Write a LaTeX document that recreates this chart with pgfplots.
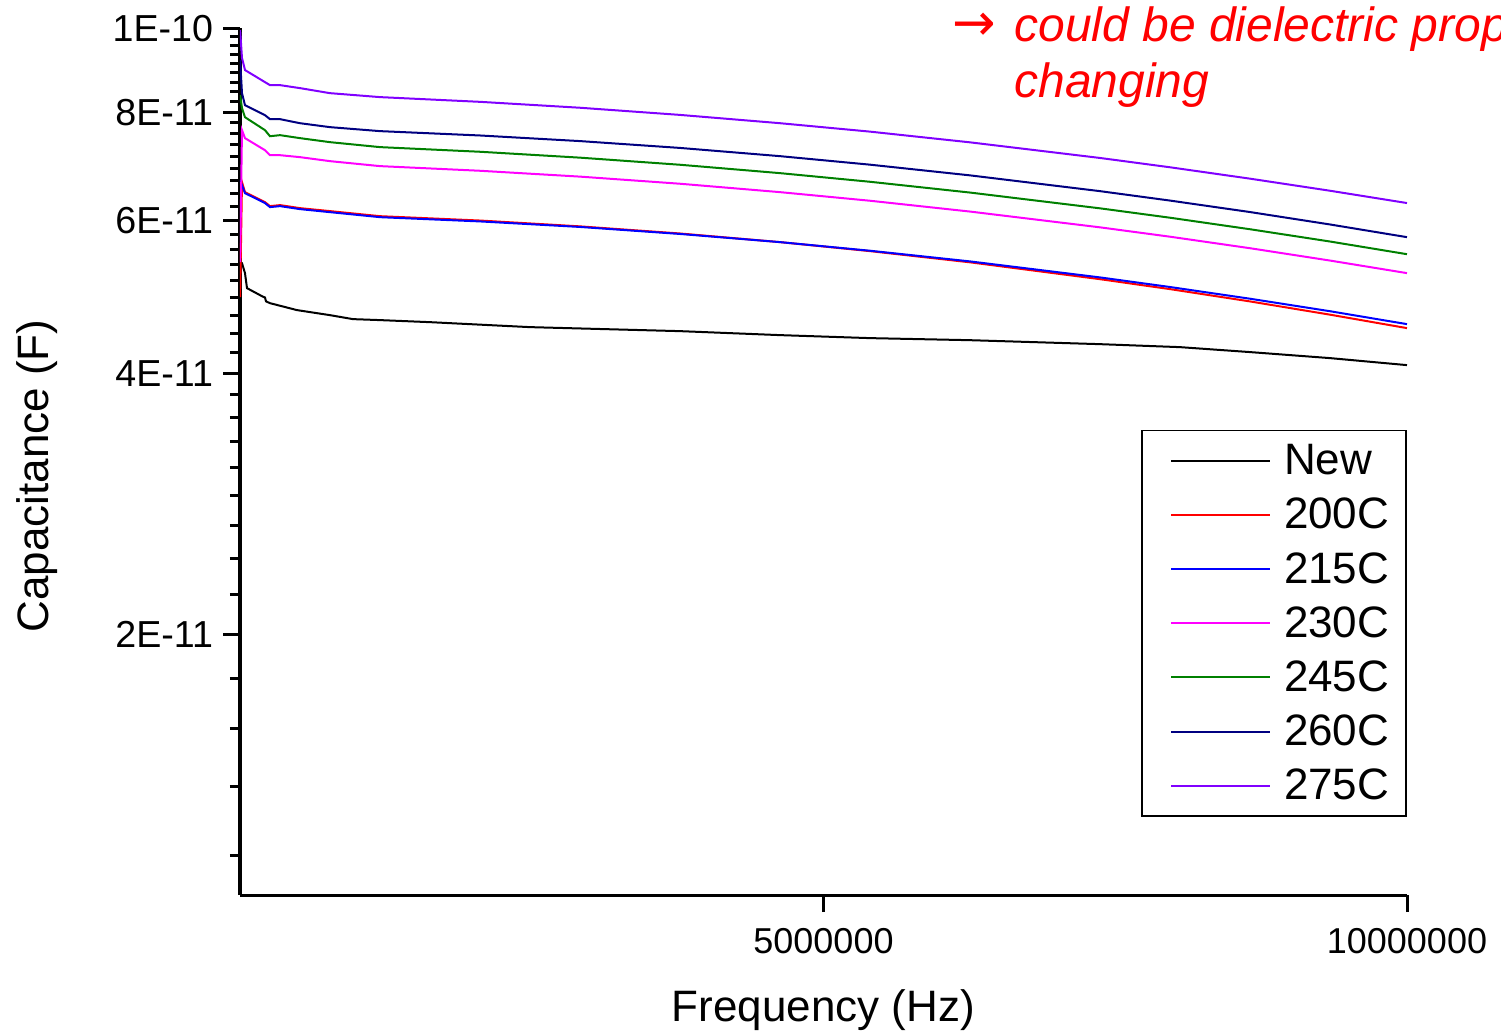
\documentclass[border=0pt]{standalone}
\usepackage{pgfplots}
\pgfplotsset{compat=1.18}
\usepackage{fontspec}
\setmainfont{Liberation Sans}
\newfontfamily\arrowfont{DejaVu Sans}
\definecolor{cnew}{RGB}{0,0,0}
\definecolor{ctwo}{RGB}{255,0,0}
\definecolor{cfif}{RGB}{0,0,255}
\definecolor{cthi}{RGB}{255,0,255}
\definecolor{cfor}{RGB}{0,128,0}
\definecolor{csix}{RGB}{0,0,128}
\definecolor{csev}{RGB}{128,0,255}
\begin{document}
\begin{tikzpicture}
\useasboundingbox (-120pt,-67.5pt) rectangle (630.5pt,447.5pt);
\begin{axis}[
  at={(0pt,0pt)}, anchor=south west,
  scale only axis, width=583.5pt, height=433.5pt,
  xmin=0, xmax=1e7, ymin=1e-11, ymax=1e-10, ymode=log,
  axis x line*=bottom, axis y line*=left,
  axis line style={line width=1.6pt},
  tick align=outside,
  major tick length=8.5pt, minor tick length=5pt,
  tick style={black, line width=1.5pt},
  xtick={5e6,1e7}, xticklabels={5000000,10000000}, scaled x ticks=false,
  ytick={2e-11,4e-11,6e-11,8e-11,1e-10},
  yticklabels={2E-11,4E-11,6E-11,8E-11,1E-10},
  minor ytick={1.1111e-11,1.3333e-11,1.5556e-11,1.7778e-11,
    2.2222e-11,2.4444e-11,2.6667e-11,2.8889e-11,3.1111e-11,3.3333e-11,3.5556e-11,3.7778e-11,
    4.2222e-11,4.4444e-11,4.6667e-11,4.8889e-11,5.1111e-11,5.3333e-11,5.5556e-11,5.7778e-11,
    6.2222e-11,6.4444e-11,6.6667e-11,6.8889e-11,7.1111e-11,7.3333e-11,7.5556e-11,7.7778e-11,
    8.2222e-11,8.4444e-11,8.6667e-11,8.8889e-11,9.1111e-11,9.3333e-11,9.5556e-11,9.7778e-11},
  xticklabel style={font=\fontsize{18}{21}\selectfont, yshift=-4.5pt},
  yticklabel style={font=\fontsize{18.8}{22}\selectfont, xshift=-1.5pt},
  xlabel={Frequency (Hz)}, ylabel={Capacitance (F)},
  label style={font=\fontsize{22}{26}\selectfont},
  xlabel style={at={(axis description cs:0.5,-0.146)}, anchor=base, inner sep=0pt},
  ylabel style={at={(axis description cs:-0.1637,0.4833)}, anchor=base, inner sep=0pt},
  legend cell align=left,
  legend style={at={(axis description cs:1,0.09)}, anchor=south east,
    draw=black, line width=0.8pt, inner xsep=8.5pt, inner ysep=3.9pt,
    row sep=4.2pt, font=\fontsize{22}{26}\selectfont,
    nodes={inner xsep=0pt, inner ysep=3pt}},
  legend image code/.code={\path (0pt,0pt) (61.5pt,0pt); \draw[#1, line width=1pt] (5.5pt,0pt) -- (55pt,0pt);},
  every axis plot/.append style={line width=1pt},
]
\addplot[cnew] coordinates {
(1000,5.372e-11) (17100,5.357e-11) (42800,5.217e-11) (60000,5.013e-11)
(197000,4.90e-11) (214000,4.89e-11) (223000,4.84e-11) (257000,4.817e-11)
(488000,4.729e-11) (771000,4.666e-11) (968000,4.617e-11) (1200000,4.605e-11)
(1628000,4.580e-11) (2485000,4.520e-11) (3770000,4.472e-11) (4627000,4.425e-11)
(5398000,4.390e-11) (6255000,4.366e-11) (7369000,4.320e-11) (8055000,4.286e-11)
(8655000,4.230e-11) (9340000,4.163e-11) (10000000,4.086e-11)};
\addlegendentry{New}
\addplot[ctwo] coordinates {
(1000,4.895e-11) (17100,6.643e-11) (42800,6.469e-11) (214000,6.300e-11)
(257000,6.233e-11) (343000,6.250e-11) (514000,6.200e-11) (771000,6.151e-11)
(1200000,6.069e-11) (2057000,5.999e-11) (2913000,5.907e-11) (3770000,5.796e-11)
(4627000,5.665e-11) (5398000,5.531e-11) (6255000,5.369e-11) (7369000,5.134e-11)
(7969000,5.000e-11) (8655000,4.839e-11) (9340000,4.672e-11) (10000000,4.508e-11)};
\addlegendentry{200C}
\addplot[cfif] coordinates {
(1000,6.679e-11) (17100,6.590e-11) (42800,6.452e-11) (214000,6.284e-11)
(257000,6.217e-11) (343000,6.233e-11) (514000,6.184e-11) (771000,6.134e-11)
(1200000,6.053e-11) (2057000,5.985e-11) (2913000,5.898e-11) (3770000,5.789e-11)
(4627000,5.665e-11) (5398000,5.537e-11) (6255000,5.382e-11) (7369000,5.158e-11)
(7969000,5.028e-11) (8655000,4.874e-11) (9340000,4.715e-11) (10000000,4.556e-11)};
\addlegendentry{215C}
\addplot[cthi] coordinates {
(1000,5.372e-11) (17100,7.627e-11) (42800,7.467e-11) (214000,7.232e-11)
(257000,7.137e-11) (343000,7.137e-11) (514000,7.099e-11) (771000,7.024e-11)
(1200000,6.932e-11) (2057000,6.847e-11) (2913000,6.741e-11) (3770000,6.615e-11)
(4627000,6.469e-11) (5398000,6.323e-11) (6255000,6.144e-11) (7369000,5.892e-11)
(7969000,5.747e-11) (8655000,5.574e-11) (9340000,5.394e-11) (10000000,5.217e-11)};
\addlegendentry{230C}
\addplot[cfor] coordinates {
(1000,8.370e-11) (17100,8.086e-11) (42800,7.895e-11) (214000,7.627e-11)
(257000,7.506e-11) (343000,7.526e-11) (514000,7.467e-11) (771000,7.388e-11)
(1200000,7.291e-11) (2057000,7.202e-11) (2913000,7.090e-11) (3770000,6.957e-11)
(4627000,6.804e-11) (5398000,6.650e-11) (6255000,6.462e-11) (7369000,6.197e-11)
(7969000,6.044e-11) (8655000,5.862e-11) (9340000,5.674e-11) (10000000,5.486e-11)};
\addlegendentry{245C}
\addplot[csix] coordinates {
(1000,9.185e-11) (17100,8.414e-11) (42800,8.150e-11) (214000,7.937e-11)
(257000,7.853e-11) (343000,7.853e-11) (514000,7.770e-11) (771000,7.688e-11)
(1200000,7.607e-11) (2057000,7.520e-11) (2913000,7.409e-11) (3770000,7.275e-11)
(4627000,7.118e-11) (5398000,6.959e-11) (6255000,6.764e-11) (7369000,6.486e-11)
(7969000,6.326e-11) (8655000,6.136e-11) (9340000,5.937e-11) (10000000,5.740e-11)};
\addlegendentry{260C}
\addplot[csev] coordinates {
(1000,9.95e-11) (17100,9.235e-11) (42800,8.946e-11) (214000,8.664e-11)
(257000,8.595e-11) (343000,8.595e-11) (514000,8.527e-11) (771000,8.414e-11)
(1200000,8.326e-11) (2057000,8.222e-11) (2913000,8.094e-11) (3770000,7.943e-11)
(4627000,7.770e-11) (5398000,7.597e-11) (6255000,7.384e-11) (7369000,7.084e-11)
(7969000,6.911e-11) (8655000,6.705e-11) (9340000,6.493e-11) (10000000,6.284e-11)};
\addlegendentry{275C}
\end{axis}
\node[anchor=base west, inner sep=0pt, text=red, font=\arrowfont\fontsize{26}{30}\selectfont] at (356pt,427.2pt) {→};
\node[anchor=base west, inner sep=0pt, text=red, font=\fontsize{24}{28}\selectfont\itshape] at (387pt,426.5pt) {could be dielectric prop};
\node[anchor=base west, inner sep=0pt, text=red, font=\fontsize{24}{28}\selectfont\itshape] at (387pt,398.5pt) {changing};
\end{tikzpicture}
\end{document}
